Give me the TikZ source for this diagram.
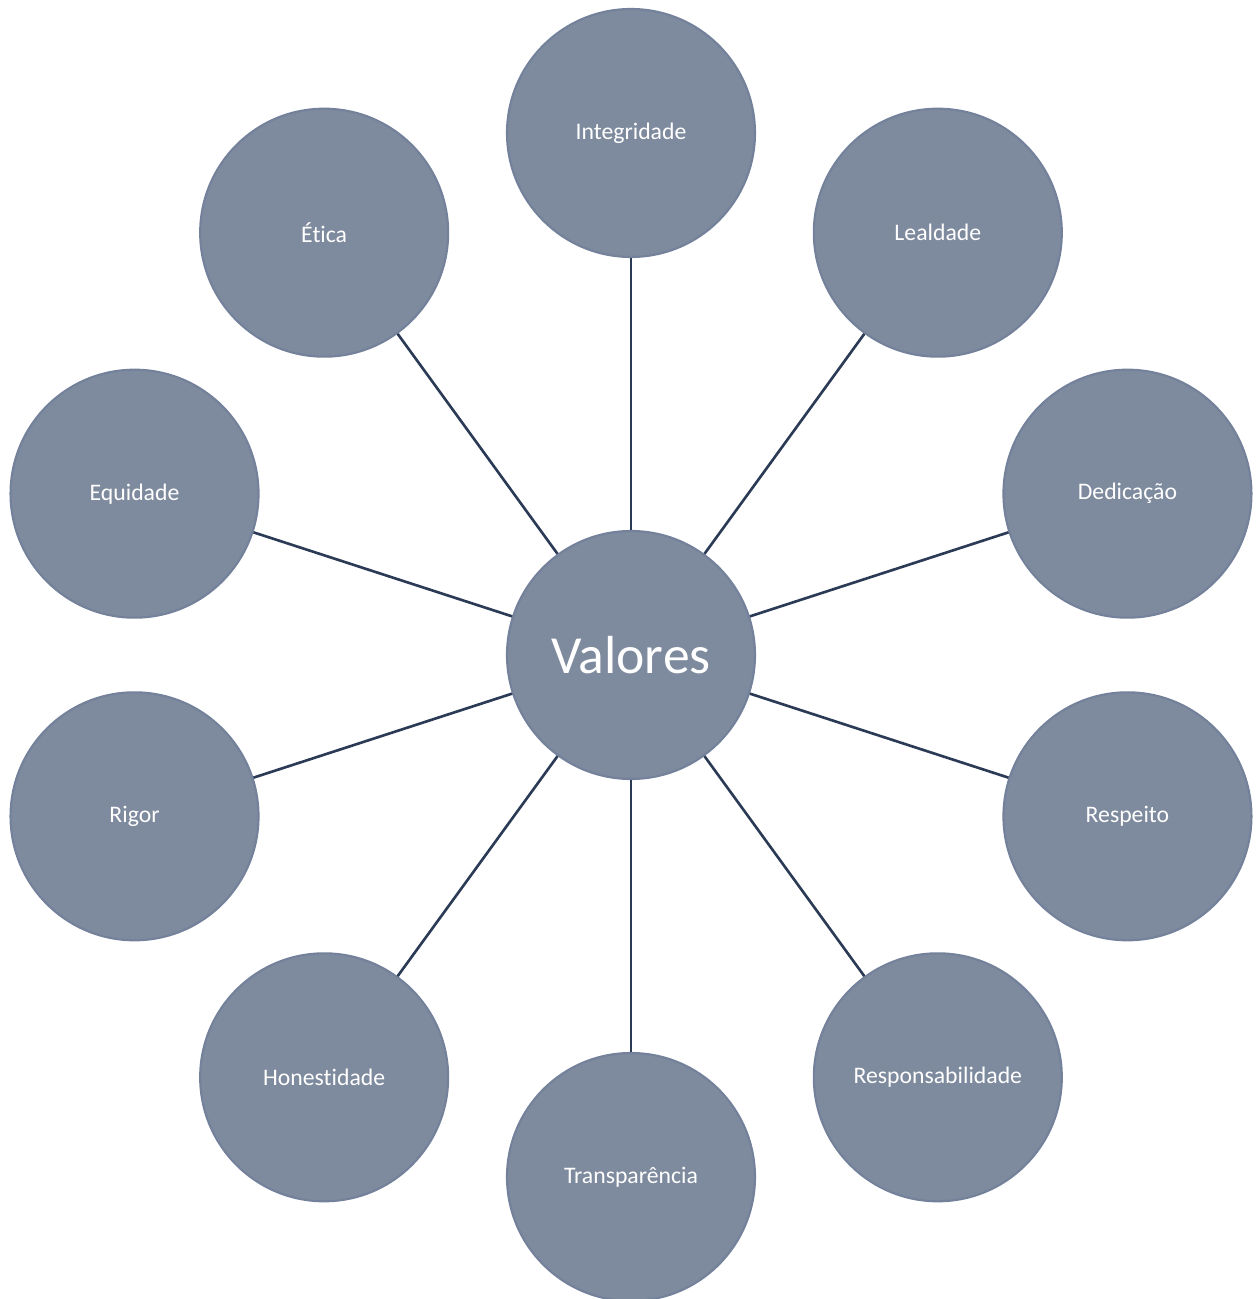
\documentclass[tikz,border=0pt]{standalone}
\usepackage{fontspec}
\setmainfont{Carlito}[Ligatures={NoCommon,NoContextual}]
\definecolor{valfill}{HTML}{7E8A9D}
\definecolor{valedge}{HTML}{74819A}
\definecolor{valline}{HTML}{2B3A55}

\begin{document}
\begin{tikzpicture} [-,line width=1.5pt]

  \tikzset{valor/.style={circle,fill=valfill,draw=valedge,line width=1.2pt,
      minimum size=4.96cm,inner sep=0pt,text=white,
      font=\fontsize{13.5}{16}\selectfont}}
  \useasboundingbox (-12.62,-12.88) rectangle (12.54,13.1);

  \node[valor] (0) [font=\fontsize{30.5}{36}\selectfont] at (0,0) {Valores};
  \node[valor] (1) at (90:10.44) {Integridade};
  \node[valor] (2) at (54:10.44) {Lealdade};
  \node[valor] (3) at (18:10.44) {Dedicação};
  \node[valor] (4) at (-18:10.44) {Respeito};
  \node[valor] (5) at (-54:10.44) {Responsabilidade};
  \node[valor] (6) at (-90:10.44) {Transparência};
  \node[valor] (7) at (-126:10.44) {Honestidade};
  \node[valor] (8) at (-162:10.44) {Rigor};
  \node[valor] (9) at (162:10.44) {Equidade};
  \node[valor] (10) at (126:10.44) {Ética};


  \path[draw=valline]
    (0) edge (1)
        edge (2)
        edge (3)
        edge (4)
        edge (5)
        edge (6)
        edge (7)
        edge (8)
        edge (9)
        edge (10);

\end{tikzpicture}
\end{document}
